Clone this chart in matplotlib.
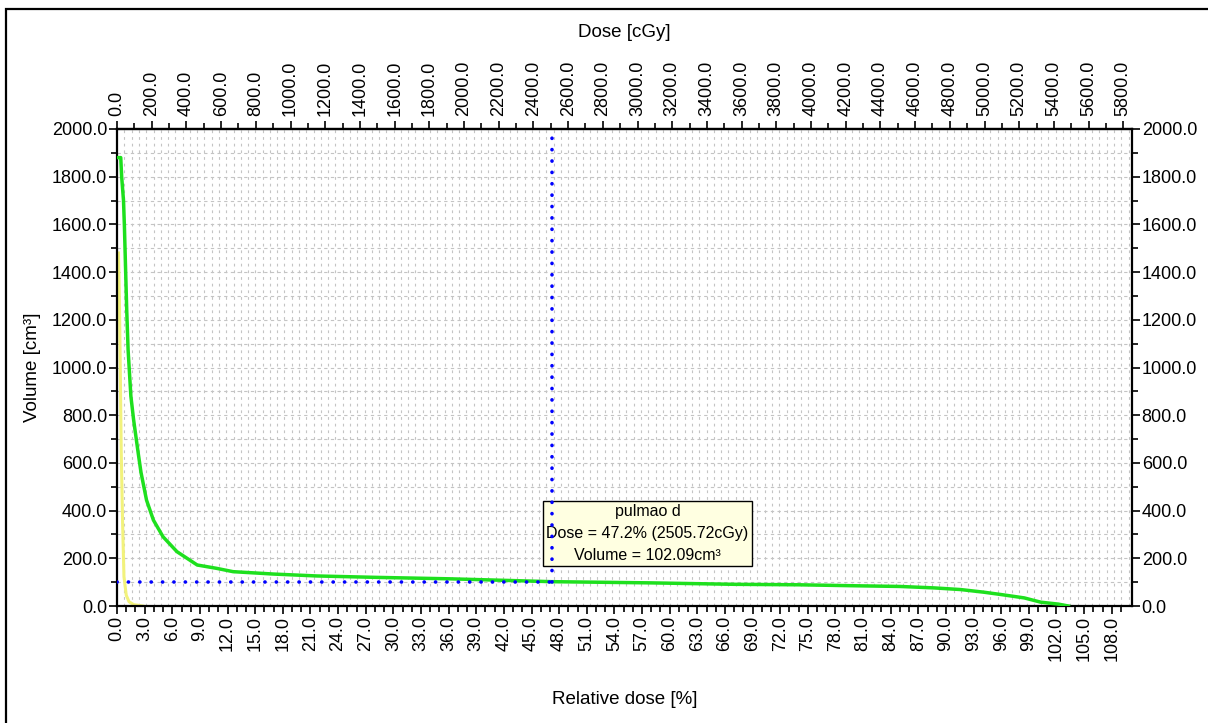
import numpy as np
import matplotlib
matplotlib.use("Agg")
import matplotlib.pyplot as plt
from matplotlib.patches import Rectangle

plt.rcParams['font.family'] = ['Liberation Sans', 'DejaVu Sans']

# DVH curves: relative dose [%] vs volume [cm3]
green_dose = [0.0, 0.4, 0.5, 0.7, 0.8, 1.05, 1.2, 1.5, 1.8, 2.05, 2.3, 2.6, 3.2, 3.95, 5.0,
              6.5, 8.7, 10.8, 12.6, 17.0, 21.7, 28.3, 36.2, 47.2, 58.0, 67.0, 74.0, 80.0,
              85.0, 88.7, 91.6, 94.1, 96.0, 98.5, 100.3, 102.2, 103.3]
green_vol = [1880, 1880, 1800, 1700, 1590, 1240, 1073, 880, 780, 710, 640, 560, 444, 360, 290,
             228, 172, 158, 144, 134, 126, 120, 114, 102.09, 97, 91, 89, 85,
             82, 76, 69, 58, 48, 34, 16, 8, 0]

yellow_dose = [0.15, 0.25, 0.35, 0.45, 0.6, 0.75, 1.0, 1.3, 1.8, 2.5, 2.8]
yellow_vol = [1480, 1300, 1000, 654, 350, 123, 45, 18, 6, 2, 0]

# cursor readout
cursor_name = "pulmao d"
cursor_dose = 47.2
cursor_cgy = 2505.72
cursor_vol = 102.09

cgy_per_pct = cursor_cgy / cursor_dose
x_max = 110.2
y_max = 2000

fig = plt.figure(figsize=(12.08, 7.23), dpi=100)
fig.patch.set_facecolor("white")
ax = fig.add_axes([0.0969, 0.1618, 0.8402, 0.6598])

# outer window frame
fig.patches.append(Rectangle((6 / 1208, -0.05), 1.2, 1 - 9 / 723 + 0.05,
                             transform=fig.transFigure, fill=False,
                             edgecolor="black", linewidth=1.6))

# dashed background grid
grid_x = np.arange(0.8, x_max, 0.79)
ax.vlines(grid_x, 0, y_max, colors="#c4c4c4", linewidth=0.8,
          linestyles=(0, (2.5, 3.5)), zorder=0)
grid_y = np.arange(100, y_max, 100)
ax.hlines(grid_y, 0, x_max, colors="#c4c4c4", linewidth=0.8,
          linestyles=(0, (3, 3)), zorder=0)

ax.plot(yellow_dose, yellow_vol, color="#f2f27c", linewidth=2.2, zorder=2)
ax.plot(green_dose, green_vol, color="#1ee01e", linewidth=2.5, zorder=3)

# cursor lines
dot = dict(color="#0000ff", linewidth=2.6, linestyle=(0, (0.05, 3.1)),
           dash_capstyle="round", zorder=6)
ax.plot([0, cursor_dose], [cursor_vol, cursor_vol], **dot)
ax.plot([cursor_dose, cursor_dose], [cursor_vol, y_max], **dot)

ax.text(cursor_dose + 10.4, cursor_vol + 202,
        f"{cursor_name}\nDose = {cursor_dose}% ({cursor_cgy}cGy)\nVolume = {cursor_vol}cm\u00b3",
        ha="center", va="center", fontsize=11.5, linespacing=1.55, zorder=5,
        bbox=dict(boxstyle="square,pad=0.2", facecolor="#ffffe1",
                  edgecolor="black", linewidth=1.0))

ax.set_xlim(0, x_max)
ax.set_ylim(0, y_max)

ax.set_xticks(np.arange(0, 109, 3.0))
ax.set_xticks(np.arange(0, 110, 1.0), minor=True)
ax.set_xticklabels([f"{v:.1f}" for v in np.arange(0, 109, 3.0)], rotation=90)
ax.set_yticks(np.arange(0, 2001, 200))
ax.set_yticks(np.arange(0, 2001, 100), minor=True)
ax.set_yticklabels([f"{v:.1f}" for v in np.arange(0, 2001, 200)])

ax.tick_params(axis="both", which="both", direction="out", labelsize=13,
               width=1.2, color="black", pad=1)
ax.tick_params(axis="both", which="major", length=6)
ax.tick_params(axis="both", which="minor", length=4)
ax.tick_params(axis="y", which="both", right=True, labelright=True)

for s in ax.spines.values():
    s.set_linewidth(1.6)

# dose axis in cGy along the top
top = ax.secondary_xaxis("top", functions=(lambda p: p * cgy_per_pct,
                                           lambda c: c / cgy_per_pct))
top_ticks = np.arange(0, 5801, 200)
top.set_xticks(top_ticks)
top.set_xticks(np.arange(0, 5801, 100), minor=True)
top.set_xticklabels([f"{v:.1f}" for v in top_ticks], rotation=90)
top.tick_params(axis="x", which="both", direction="out", labelsize=13, width=1.2, pad=3)
top.tick_params(axis="x", which="major", length=6)
top.tick_params(axis="x", which="minor", length=4)
top.spines["top"].set_linewidth(1.6)
top.set_xlabel("Dose [cGy]", fontsize=13.5, labelpad=17)

ax.set_xlabel("Relative dose [%]", fontsize=13.5, labelpad=22)
ax.set_ylabel("Volume [cm\u00b3]", fontsize=13.5, labelpad=8)

fig.savefig("out.png", dpi=100)
